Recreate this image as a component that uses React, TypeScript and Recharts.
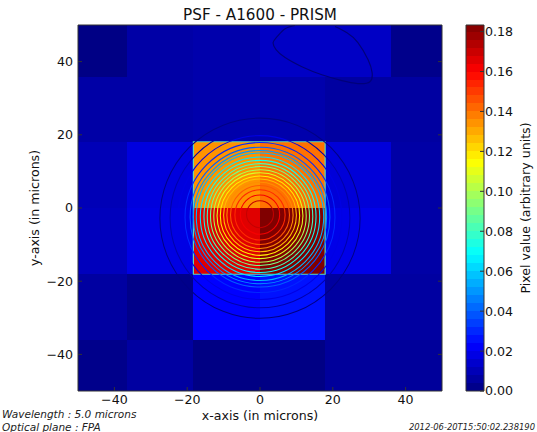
import { ComposedChart, Line, ReferenceArea, ReferenceDot, XAxis, YAxis } from 'recharts';

const FONT = '"DejaVu Sans", sans-serif';
const V_MAX = 0.1833;
const PX_PER_MICRON = 3.64;

const axisTicks = [-40, -20, 0, 20, 40];
const barTicks = [0, 0.02, 0.04, 0.06, 0.08, 0.1, 0.12, 0.14, 0.16, 0.18];

// detector pixels, read top row first
const colEdges = [-50, -36.5, -18.3, -0.1, 17.9, 36, 50];
const rowEdges = [50, 35.9, 18.1, 0, -18.1, -36.2, -50];
const pixelRows = [
  [0.001, 0.007, 0.008, 0.0125, 0.0125, 0.002],
  [0.007, 0.007, 0.008, 0.008, 0.006, 0.006],
  [0.01, 0.017, 0.134, 0.14, 0.016, 0.007],
  [0.011, 0.018, 0.166, 0.1833, 0.019, 0.007],
  [0.006, 0.002, 0.023, 0.026, 0.006, 0.006],
  [0.002, 0.006, 0.001, 0.001, 0.005, 0.005],
];

// contour rings round the PSF peak
const ringLevels = [0.171, 0.162, 0.153, 0.144, 0.135, 0.126, 0.117, 0.108, 0.099, 0.09, 0.081, 0.072, 0.064, 0.056, 0.05, 0.04, 0.03, 0.018, 0.008, 0.001];
const ringRadii = [3.7, 5.4, 6.9, 8.1, 9.1, 10, 10.9, 11.8, 12.7, 13.6, 14.5, 15.4, 16.4, 17.5, 18.3, 19.2, 20.6, 22.5, 24.7, 27.5];
const ringCenterX = [0, 0, 0, 0, 0, 0, 0, 0, 0, 0, 0, 0, 0, 0, 0, 0, 0, 0, 0, 0];
const ringCenterY = [-1.7, -1.8, -1.9, -1.9, -2, -2, -2.1, -2.1, -2.2, -2.2, -2.3, -2.3, -2.4, -2.4, -2.5, -2.5, -2.6, -2.6, -2.7, -2.8];

// the lone contour in the upper right
const blobX = [9.6, 6.9, 4.7, 3.6, 4.4, 6.9, 11.5, 17.0, 22.5, 26.9, 30.2, 30.8, 29.7, 26.9, 23.9, 20.6];
const blobY = [49.9, 49.0, 46.8, 45.2, 43.3, 41.1, 38.6, 36.4, 34.8, 34.0, 34.5, 37.0, 40.5, 45.2, 47.9, 49.6];
const blobData = blobX.map((x, i) => ({ x, y: blobY[i] }));

const barLevels = [0, 0.004, 0.008, 0.012, 0.016, 0.02, 0.024, 0.028, 0.032, 0.036, 0.04, 0.044, 0.048, 0.052, 0.056, 0.06, 0.064, 0.068, 0.072, 0.076, 0.08, 0.084, 0.088, 0.092, 0.096, 0.1, 0.104, 0.108, 0.112, 0.116, 0.12, 0.124, 0.128, 0.132, 0.136, 0.14, 0.144, 0.148, 0.152, 0.156, 0.16, 0.164, 0.168, 0.172, 0.176, 0.18, 0.1833];
const barData = barLevels.map((v) => ({ x: 0.5, v }));

function jet(v: number) {
  const t = v / V_MAX;
  const c = (a: number) => Math.round(255 * Math.max(0, Math.min(1, a)));
  const r = c(Math.min(4 * t - 1.5, -4 * t + 4.5));
  const g = c(Math.min(4 * t - 0.5, -4 * t + 3.5));
  const b = c(Math.min(4 * t + 0.5, -4 * t + 2.5));
  return `rgb(${r},${g},${b})`;
}

const minus = (v: number) => String(v).replace('-', '\u2212');
const blank = () => '';
const tickStyle = { fontSize: 12.6, fontFamily: FONT, fill: '#111' };
const labelStyle = { fontSize: 12.6, fontFamily: FONT, fill: '#111' };
const spine = { stroke: '#333', strokeWidth: 1 };

function Heatmap() {
  return (
    <ComposedChart width={537} height={432} margin={{ top: 24, right: 94, bottom: 0, left: 0 }}>
      <XAxis type="number" dataKey="x" domain={[-50, 50]} ticks={axisTicks} tickFormatter={minus} height={41} tickSize={-4} tickMargin={8} tick={tickStyle} tickLine={spine} axisLine={spine} allowDataOverflow label={{ value: 'x-axis (in microns)', position: 'insideBottom', offset: 12, style: labelStyle }} />
      <XAxis xAxisId="top" orientation="top" type="number" domain={[-50, 50]} ticks={axisTicks} tickFormatter={blank} height={1} tickSize={-4} tickLine={spine} axisLine={spine} allowDataOverflow />
      <YAxis type="number" domain={[-50, 50]} ticks={axisTicks} tickFormatter={minus} width={78} tickSize={-4} tickMargin={9} tick={tickStyle} tickLine={spine} axisLine={spine} allowDataOverflow label={{ value: 'y-axis (in microns)', angle: -90, position: 'insideLeft', offset: 35, style: { ...labelStyle, textAnchor: 'middle' } }} />
      <YAxis yAxisId="right" orientation="right" type="number" domain={[-50, 50]} ticks={axisTicks} tickFormatter={blank} width={1} tickSize={-4} tickLine={spine} axisLine={spine} allowDataOverflow />
      {pixelRows.map((row, r) =>
        row.map((v, c) => (
          <ReferenceArea key={`${r}-${c}`} x1={colEdges[c]} x2={colEdges[c + 1]} y1={rowEdges[r]} y2={rowEdges[r + 1]} fill={jet(v)} fillOpacity={1} stroke="none" shapeRendering="crispEdges" />
        )),
      )}
      <ReferenceArea x1={colEdges[2]} x2={colEdges[4]} y1={rowEdges[2]} y2={rowEdges[4]} fill="none" stroke="#5fdcb0" strokeWidth={1.2} />
      {ringRadii.map((radius, i) => (
        <ReferenceDot key={radius} x={ringCenterX[i]} y={ringCenterY[i]} r={radius * PX_PER_MICRON} fill="none" stroke={jet(ringLevels[i])} strokeWidth={1.05} />
      ))}
      <Line data={blobData} dataKey="y" type="natural" stroke="#00007a" strokeWidth={1.2} dot={false} isAnimationActive={false} />
    </ComposedChart>
  );
}

function Colorbar() {
  return (
    <ComposedChart width={537} height={432} data={barData} margin={{ top: 24, right: 0, bottom: 0, left: 465 }}>
      <XAxis type="number" dataKey="x" domain={[0, 1]} ticks={[]} height={41} axisLine={spine} />
      <XAxis xAxisId="top" orientation="top" type="number" domain={[0, 1]} ticks={[]} height={1} axisLine={spine} />
      <YAxis yAxisId="left" type="number" domain={[0, V_MAX]} ticks={[]} width={1} axisLine={spine} />
      <YAxis
        orientation="right"
        type="number"
        domain={[0, V_MAX]}
        ticks={barTicks}
        tickFormatter={(v: number) => v.toFixed(2)}
        width={53}
        tickSize={-4}
        tickMargin={5}
        tick={tickStyle}
        tickLine={spine}
        axisLine={spine}
        label={{ value: 'Pixel value (arbitrary units)', angle: -90, position: 'insideRight', offset: 11, style: { ...labelStyle, textAnchor: 'middle' } }}
      />
      {barLevels.slice(0, -1).map((lo, i) => (
        <ReferenceArea key={lo} x1={0} x2={1} y1={lo} y2={barLevels[i + 1]} fill={jet((lo + barLevels[i + 1]) / 2)} fillOpacity={1} stroke="none" shapeRendering="crispEdges" />
      ))}
      <Line dataKey="v" stroke="none" dot={false} isAnimationActive={false} />
    </ComposedChart>
  );
}

const pos = (style: React.CSSProperties): React.CSSProperties => ({ position: 'absolute', fontFamily: FONT, color: '#111', whiteSpace: 'nowrap', lineHeight: 1, ...style });

export default function App() {
  return (
    <div style={{ position: 'absolute', left: 0, top: 0, width: 537, height: 432, overflow: 'hidden', background: '#fff' }}>
      <div style={{ position: 'absolute', left: 0, top: 0 }}>
        <Heatmap />
      </div>
      <div style={{ position: 'absolute', left: 0, top: 0 }}>
        <Colorbar />
      </div>
      <div style={pos({ left: 78, width: 364, top: 8, textAlign: 'center', fontSize: 15.2 })}>PSF - A1600 - PRISM</div>
      <div style={pos({ left: 2, top: 409, fontSize: 10.5, fontStyle: 'italic', color: '#222' })}>Wavelength : 5.0 microns</div>
      <div style={pos({ left: 2, top: 422, fontSize: 10.5, fontStyle: 'italic', color: '#222' })}>Optical plane : FPA</div>
      <div style={pos({ right: 2, top: 423, fontSize: 8.4, fontStyle: 'italic', color: '#222' })}>2012-06-20T15:50:02.238190</div>
    </div>
  );
}
